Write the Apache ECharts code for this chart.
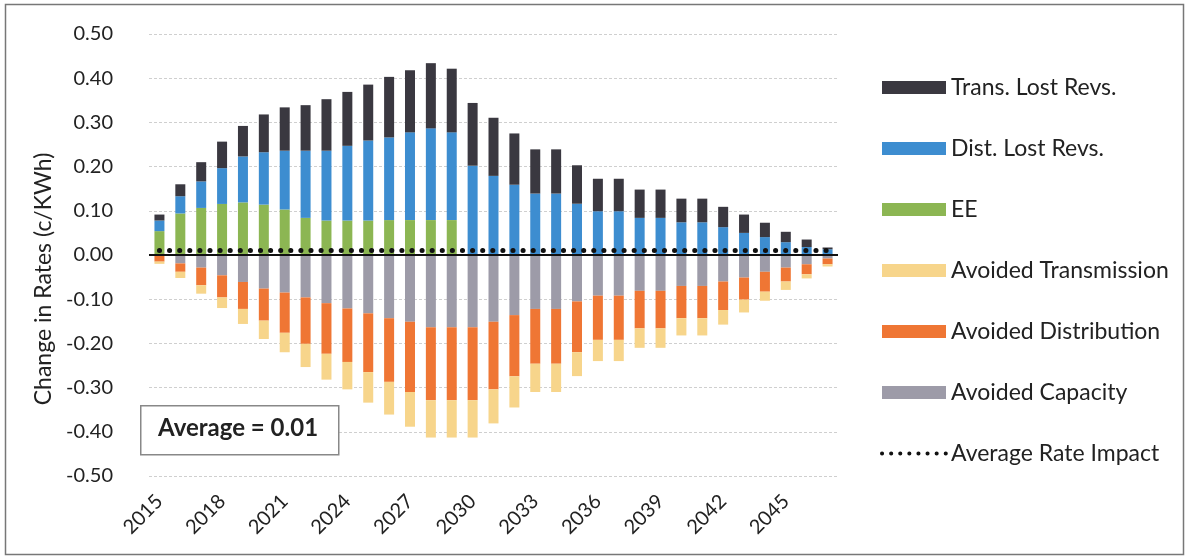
<!DOCTYPE html>
<html><head><meta charset="utf-8">
<script src="https://cdn.jsdelivr.net/npm/echarts@6/dist/echarts.min.js"></script>
<style>html,body{margin:0;padding:0;background:#fff}#c{width:1185px;height:556px}</style>
</head><body><div id="c"></div>
<script>
var years = ['2015','2016','2017','2018','2019','2020','2021','2022','2023','2024','2025','2026','2027','2028','2029','2030','2031','2032','2033','2034','2035','2036','2037','2038','2039','2040','2041','2042','2043','2044','2045','2046','2047'];
var transLost = [0.0135,0.027,0.0435,0.06,0.069,0.0855,0.098,0.103,0.1165,0.122,0.1265,0.137,0.1405,0.1475,0.144,0.142,0.1315,0.116,0.1,0.1,0.087,0.0735,0.0735,0.064,0.064,0.0535,0.0535,0.046,0.0415,0.0325,0.0235,0.017,0.004];
var distLost = [0.024,0.039,0.06,0.081,0.104,0.1185,0.133,0.152,0.158,0.169,0.181,0.187,0.1985,0.2075,0.1985,0.202,0.179,0.159,0.139,0.139,0.116,0.099,0.099,0.084,0.084,0.074,0.074,0.063,0.05,0.0405,0.029,0.018,0.013];
var ee = [0.054,0.094,0.1065,0.1155,0.119,0.114,0.103,0.084,0.078,0.078,0.078,0.079,0.079,0.079,0.079,0,0,0,0,0,0,0,0,0,0,0,0,0,0,0,0,0,0];
var avoidedCapacity = [-0.002,-0.019,-0.0285,-0.046,-0.061,-0.076,-0.085,-0.096,-0.109,-0.121,-0.132,-0.143,-0.151,-0.1635,-0.1635,-0.1635,-0.151,-0.136,-0.122,-0.122,-0.105,-0.092,-0.092,-0.081,-0.081,-0.07,-0.07,-0.06,-0.051,-0.038,-0.0285,-0.021,-0.008];
var avoidedDistribution = [-0.013,-0.019,-0.04,-0.05,-0.061,-0.0725,-0.091,-0.105,-0.1145,-0.121,-0.133,-0.144,-0.159,-0.165,-0.165,-0.165,-0.153,-0.1385,-0.124,-0.124,-0.115,-0.1,-0.1,-0.085,-0.085,-0.073,-0.073,-0.0645,-0.05,-0.045,-0.0315,-0.0225,-0.013];
var avoidedTransmission = [-0.005,-0.014,-0.019,-0.024,-0.034,-0.0415,-0.044,-0.0525,-0.0585,-0.062,-0.069,-0.074,-0.0785,-0.0845,-0.0845,-0.0845,-0.077,-0.0705,-0.064,-0.064,-0.054,-0.048,-0.048,-0.044,-0.044,-0.039,-0.039,-0.033,-0.029,-0.0205,-0.019,-0.0095,-0.005];
var averageRate = [0.01,0.01,0.01,0.01,0.01,0.01,0.01,0.01,0.01,0.01,0.01,0.01,0.01,0.01,0.01,0.01,0.01,0.01,0.01,0.01,0.01,0.01,0.01,0.01,0.01,0.01,0.01,0.01,0.01,0.01,0.01,0.01,0.01];
var averageText = 'Average = 0.01';

var FONT = 'Lato';
var chart = echarts.init(document.getElementById('c'), null, {renderer:'canvas'});
function bar(name, data, color){
  return {name:name, type:'bar', stack:'s', data:data, barWidth:10,
    itemStyle:{color:color}, emphasis:{disabled:true}, animation:false};
}
var series = [
  bar('EE', ee, '#8cb653'),
  bar('Dist. Lost Revs.', distLost, '#3d8dd0'),
  bar('Trans. Lost Revs.', transLost, '#3a3840'),
  bar('Avoided Capacity', avoidedCapacity, '#9d9ba8'),
  bar('Avoided Distribution', avoidedDistribution, '#ef7634'),
  bar('Avoided Transmission', avoidedTransmission, '#f7d58b'),
  {name:'Average Rate Impact', type:'line', data:averageRate, symbol:'none', z:10,
    itemStyle:{color:'#111'},
    lineStyle:{color:'#111', width:5, type:[0.1,10], cap:'round'}, animation:false,
    markLine:{silent:true, symbol:'none', label:{show:false}, z:5,
      lineStyle:{color:'#111', width:2, type:'solid'}, data:[{yAxis:0}]}}
];
chart.setOption({
  animation:false,
  textStyle:{fontFamily:FONT},
  grid:{left:149, right:347, top:34, bottom:80},
  legend:{orient:'vertical', left:875, top:71, itemWidth:64, itemHeight:13, itemGap:38,
    data:[{name:'Trans. Lost Revs.',icon:'rect'},{name:'Dist. Lost Revs.',icon:'rect'},{name:'EE',icon:'rect'},
      {name:'Avoided Transmission',icon:'rect'},{name:'Avoided Distribution',icon:'rect'},{name:'Avoided Capacity',icon:'rect'},
      {name:'Average Rate Impact', itemStyle:{opacity:0}, lineStyle:{color:'#111', width:4, type:[0.1,9], cap:'round'}}],
    textStyle:{fontFamily:FONT, fontSize:23, color:'#222'}, selectedMode:false},
  xAxis:{type:'category', data:years, boundaryGap:true,
    axisLine:{show:false, onZero:false}, axisTick:{show:false},
    axisLabel:{interval:2, rotate:45, fontFamily:FONT, fontSize:20, color:'#222', margin:22}},
  yAxis:{type:'value', min:-0.5, max:0.5, interval:0.1,
    name:'Change in Rates (c/KWh)', nameLocation:'middle', nameGap:91,
    nameTextStyle:{fontFamily:FONT, fontSize:23, color:'#222', padding:[0,48,0,0]},
    axisLine:{show:false}, axisTick:{show:false},
    axisLabel:{formatter:function(v){return v.toFixed(2);}, fontFamily:FONT, fontSize:20, color:'#222', margin:36},
    splitLine:{lineStyle:{color:'#cfcfcf', type:[3,2], width:1}}},
  graphic:[
    {type:'rect', left:3, top:2, shape:{width:1178, height:550}, style:{fill:'none', stroke:'#777', lineWidth:1.5}, z:-1},
    {type:'rect', left:140, top:405, shape:{width:198, height:49}, style:{fill:'#fff', stroke:'#888', lineWidth:1.5}, z:20},
    {type:'text', left:158, top:416, style:{text:averageText, font:'bold 24px Lato', fill:'#222'}, z:21}
  ],
  series:series
});
</script></body></html>
